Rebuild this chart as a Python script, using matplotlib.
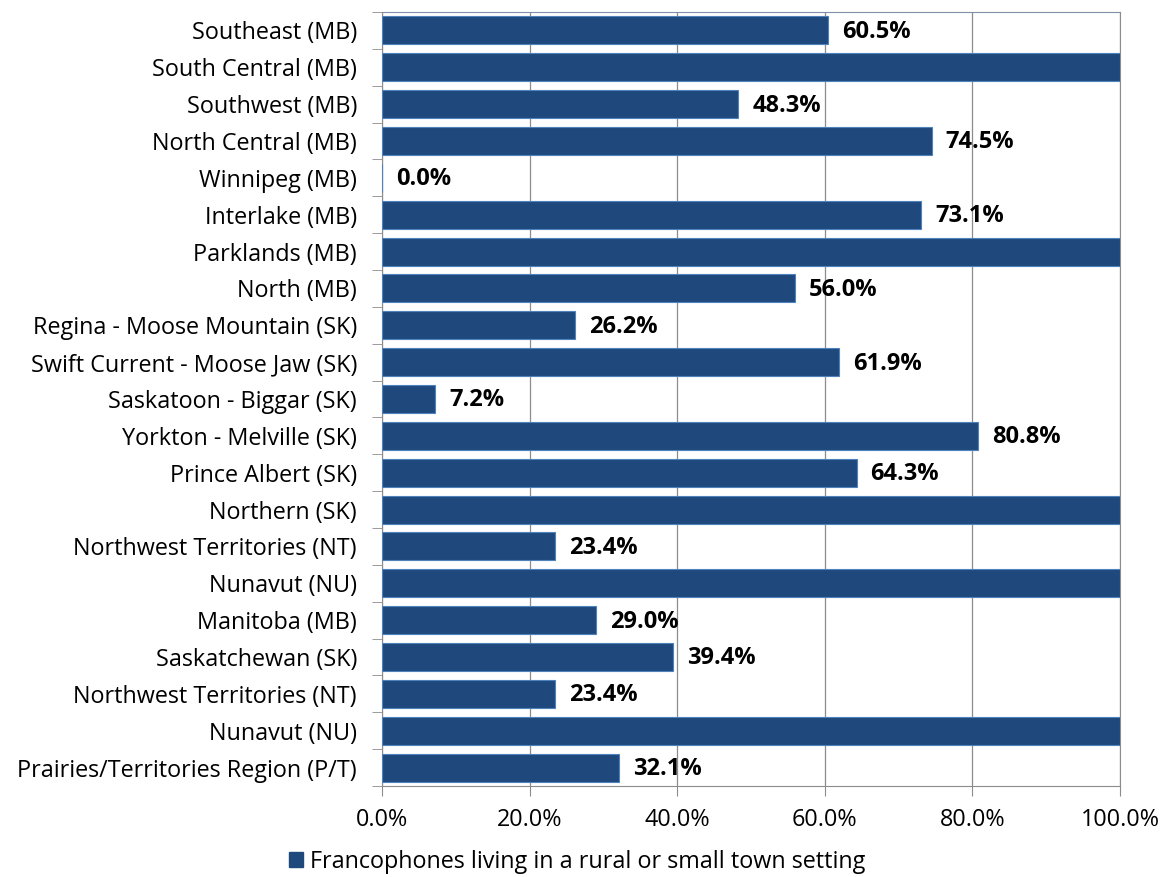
import matplotlib.pyplot as plt
import matplotlib.ticker as mticker
import numpy as np

plt.rcParams['font.family'] = ['Open Sans', 'DejaVu Sans']

regions = ['Southeast (MB)', 'South Central (MB)', 'Southwest (MB)', 'North Central (MB)',
           'Winnipeg (MB)', 'Interlake (MB)', 'Parklands (MB)', 'North (MB)',
           'Regina - Moose Mountain (SK)', 'Swift Current - Moose Jaw (SK)',
           'Saskatoon - Biggar (SK)', 'Yorkton - Melville (SK)', 'Prince Albert (SK)',
           'Northern (SK)', 'Northwest Territories (NT)', 'Nunavut (NU)',
           'Manitoba (MB)', 'Saskatchewan (SK)', 'Northwest Territories (NT)',
           'Nunavut (NU)', 'Prairies/Territories Region (P/T)']
share = [60.5, 100.0, 48.3, 74.5, 0.0, 73.1, 100.0, 56.0, 26.2, 61.9, 7.2, 80.8, 64.3,
         100.0, 23.4, 100.0, 29.0, 39.4, 23.4, 100.0, 32.1]

fig = plt.figure(figsize=(11.61, 8.77), dpi=100)
ax = fig.add_axes([0.329, 0.1038, 0.6357, 0.8825])

y = np.arange(len(regions))
ax.barh(y, share, height=0.76, color='#1F497D', edgecolor='#4F81BD', linewidth=0.8, zorder=3)

for yi, v in zip(y, share):
    if v < 100:   # labels for full bars fall outside the plot area
        ax.annotate(f'{v:.1f}%', (v, yi), xytext=(10, -1), textcoords='offset points',
                    va='center', ha='left', fontsize=17, fontweight='bold', color='black')

ax.set_xlim(0, 100)
ax.set_ylim(len(regions) - 0.5, -0.5)
ax.xaxis.set_major_locator(mticker.MultipleLocator(20))
ax.xaxis.set_major_formatter(mticker.FuncFormatter(lambda v, p: f'{v:.1f}%'))
ax.grid(axis='x', color='#8c8c8c', linewidth=0.9, zorder=0)

ax.set_yticks(y)
ax.set_yticklabels(regions, fontsize=16.8, va='center_baseline')
ax.set_yticks(np.arange(len(regions) + 1) - 0.5, minor=True)
ax.tick_params(axis='y', which='major', length=0, pad=18)
ax.tick_params(axis='y', which='minor', length=7, color='#8c8c8c', direction='out')
ax.tick_params(axis='x', which='major', length=7, color='#8c8c8c', direction='out',
               labelsize=16.8, pad=9)

for side in ['left', 'bottom']:
    ax.spines[side].set_color('#8c8c8c')
ax.spines['top'].set_color('#7f8fa6')
ax.spines['right'].set_color('#8c8c8c')

handle = plt.Rectangle((0, 0), 1, 1, color='#1F497D')
fig.legend([handle], ['Francophones living in a rural or small town setting'],
           loc='center', bbox_to_anchor=(0.497, 0.017), frameon=False, fontsize=16.8,
           handlelength=0.6, handleheight=0.6, handletextpad=0.3)

fig.savefig('out.png', dpi=100)
